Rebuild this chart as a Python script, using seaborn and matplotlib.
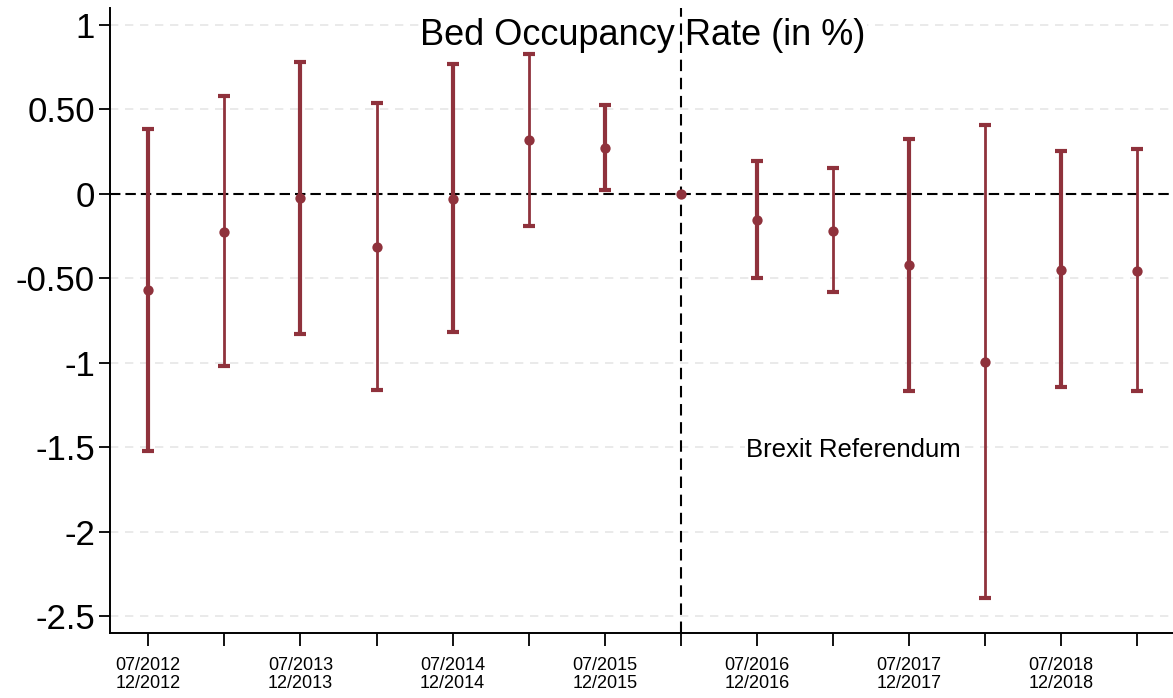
import matplotlib
matplotlib.use('Agg')
import matplotlib.pyplot as plt
import seaborn as sns
import numpy as np
import pandas as pd

# half-year periods, 01/2016-06/2016 is the reference period
periods = ['07/2012\n12/2012', '01/2013\n06/2013', '07/2013\n12/2013', '01/2014\n06/2014',
           '07/2014\n12/2014', '01/2015\n06/2015', '07/2015\n12/2015', '01/2016\n06/2016',
           '07/2016\n12/2016', '01/2017\n06/2017', '07/2017\n12/2017', '01/2018\n06/2018',
           '07/2018\n12/2018', '01/2019\n06/2019']
coef = [-0.57, -0.225, -0.025, -0.315, -0.03, 0.32, 0.27, 0.0,
        -0.155, -0.22, -0.42, -0.995, -0.45, -0.455]
ci_low = [-1.52, -1.02, -0.83, -1.16, -0.82, -0.19, 0.02, np.nan,
          -0.50, -0.585, -1.17, -2.39, -1.145, -1.17]
ci_high = [0.385, 0.575, 0.78, 0.535, 0.765, 0.825, 0.525, np.nan,
           0.195, 0.15, 0.325, 0.405, 0.255, 0.265]
shown_labels = ['07/2012\n12/2012', '07/2013\n12/2013', '07/2014\n12/2014', '07/2015\n12/2015',
                '07/2016\n12/2016', '07/2017\n12/2017', '07/2018\n12/2018']
ytick_values = [1, 0.5, 0, -0.5, -1, -1.5, -2, -2.5]
ytick_labels = ['1', '0.50', '0', '-0.50', '-1', '-1.5', '-2', '-2.5']
referendum_pos = 7


def main():
    sns.set_theme(style='white')
    plt.rcParams['font.family'] = ['Liberation Sans', 'DejaVu Sans']
    plt.rcParams['text.color'] = 'black'
    plt.rcParams['xtick.color'] = 'black'
    plt.rcParams['ytick.color'] = 'black'

    df = pd.DataFrame({'period': periods, 'coef': coef, 'low': ci_low, 'high': ci_high})
    df['pos'] = np.arange(len(df))
    color = '#8f323c'

    fig = plt.figure(figsize=(11.73, 6.98), dpi=100)
    ax = fig.add_axes([0.094, 0.093, 0.906, 0.896])

    # light dashed grid at the y ticks
    for v in ytick_values:
        if v != 0:
            ax.axhline(v, color='#e6e6e6', linestyle=(0, (5, 4)), linewidth=1.2, zorder=0)
    ax.axhline(0, color='black', linestyle=(0, (5, 2.4)), linewidth=1.5, zorder=1)
    ax.axvline(referendum_pos, color='black', linestyle=(0, (5.5, 3.2)), linewidth=1.5, zorder=1)

    # confidence intervals, every other one is drawn thicker
    ci = df.dropna()
    for _, row in ci.iterrows():
        lw = 3.0 if row['pos'] % 2 == 0 else 2.0
        ax.errorbar(row['pos'], row['coef'],
                    yerr=[[row['coef'] - row['low']], [row['high'] - row['coef']]],
                    fmt='none', ecolor=color, elinewidth=lw, capsize=4, capthick=3, zorder=2)

    sns.scatterplot(data=df, x='pos', y='coef', color=color, s=55, edgecolor=color,
                    linewidth=0, ax=ax, zorder=3)

    # titles sit on a white box over the grid, below the dashed lines
    ax.text(6.5, 0.935, 'Bed Occupancy Rate (in %)', fontsize=26, ha='center', va='center',
            bbox=dict(facecolor='white', edgecolor='none', pad=1), zorder=0.5)
    ax.text(7.86, -1.515, 'Brexit Referendum', fontsize=18.5, ha='left', va='center',
            bbox=dict(facecolor='white', edgecolor='none', pad=1), zorder=0.5)

    ax.set_xlim(-0.5, 13.47)
    ax.set_ylim(-2.6, 1.1)
    ax.set_xticks(df['pos'])
    ax.set_xticklabels([p if p in shown_labels else '' for p in df['period']], fontsize=13,
                       linespacing=1.1)
    ax.set_yticks(ytick_values)
    ax.set_yticklabels(ytick_labels, fontsize=25)
    ax.tick_params(axis='x', direction='out', length=9, width=1.3, color='black', bottom=True, pad=8)
    ax.tick_params(axis='y', direction='out', length=8, width=1.3, color='black', left=True, pad=3)
    ax.set_xlabel('')
    ax.set_ylabel('')

    for side in ['top', 'right']:
        ax.spines[side].set_visible(False)
    for side in ['left', 'bottom']:
        ax.spines[side].set_color('black')
        ax.spines[side].set_linewidth(1.4)

    fig.savefig('out.png', dpi=100, facecolor='white')


if __name__ == '__main__':
    main()
